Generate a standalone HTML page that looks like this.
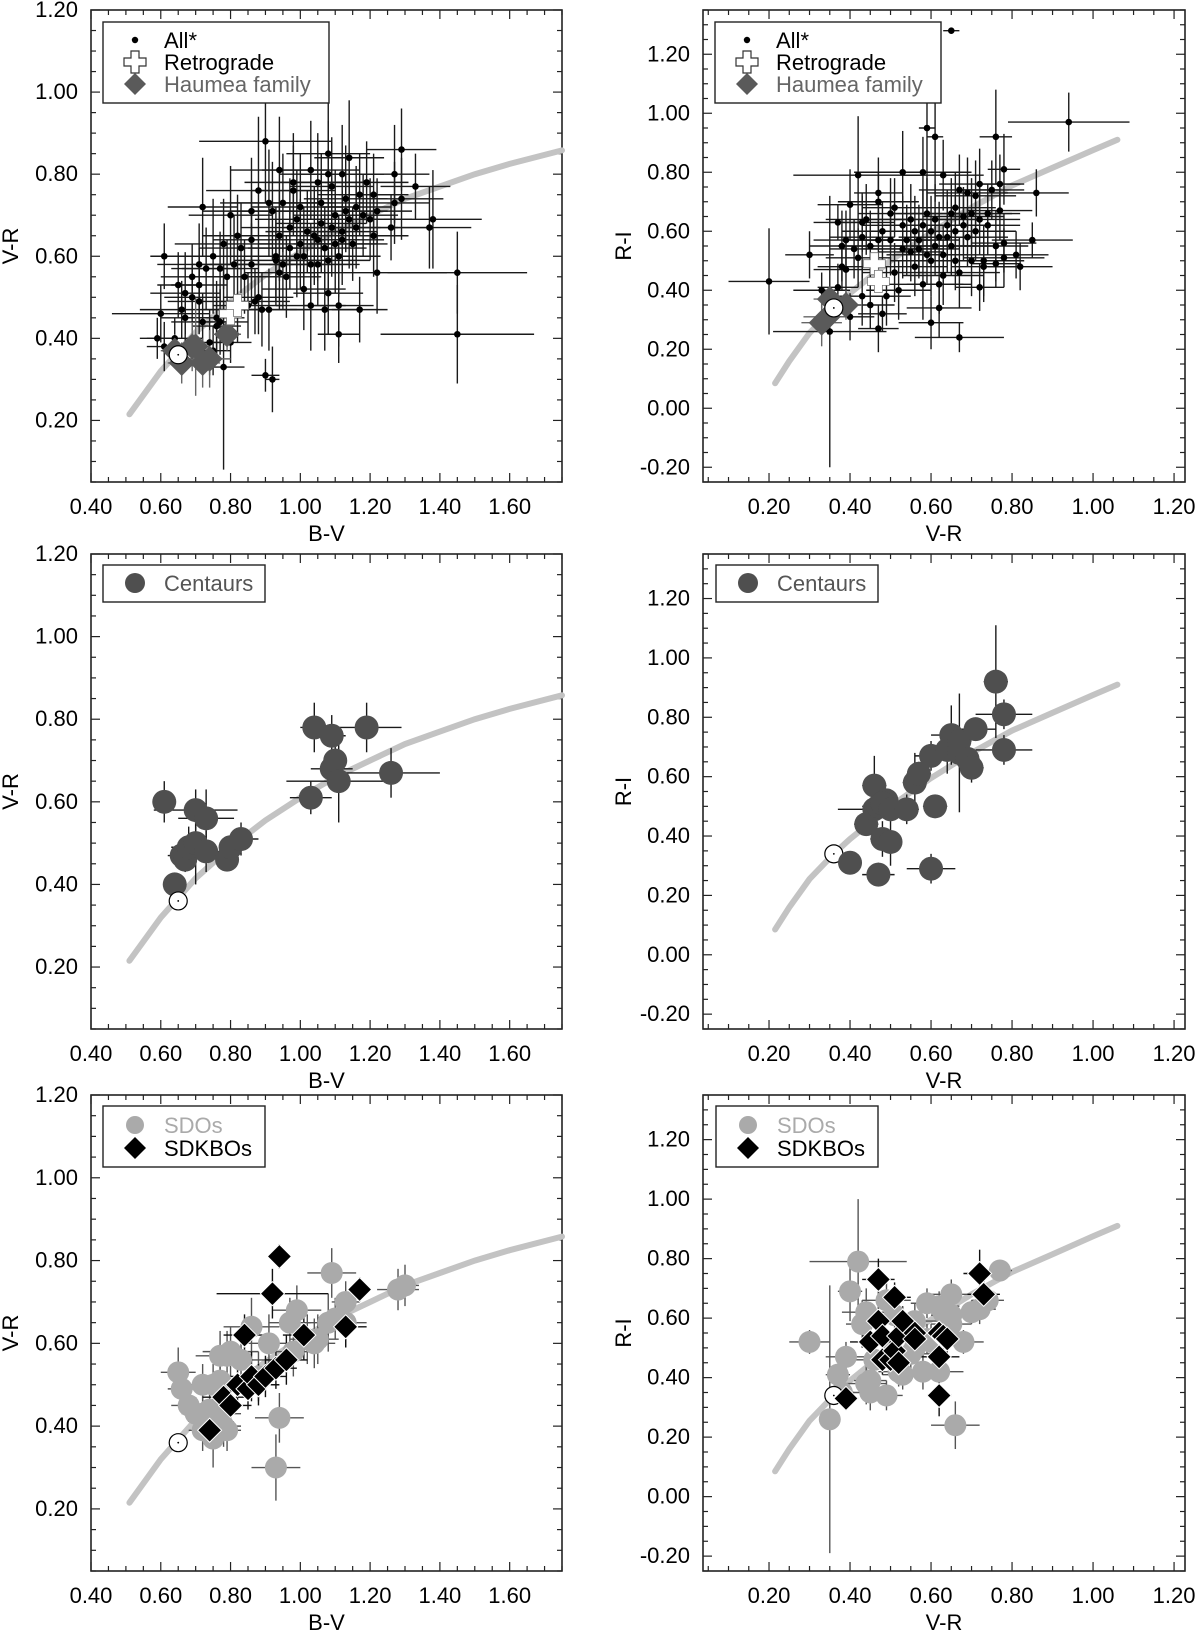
<!DOCTYPE html>
<html><head><meta charset="utf-8"><style>
html,body{margin:0;padding:0;background:#fff;}
svg{display:block;font-family:"Liberation Sans",Arial,sans-serif;}
</style></head><body>
<svg id="fig" width="1200" height="1632" viewBox="0 0 1200 1632" xmlns="http://www.w3.org/2000/svg"></svg>
<script>
// ---------- DATA ----------
const curveBV = [0.51,0.60,0.70,0.80,0.90,1.00,1.10,1.20,1.30,1.40,1.50,1.60,1.75];
const curveVR_BV = [0.215,0.32,0.415,0.49,0.555,0.61,0.66,0.70,0.74,0.77,0.80,0.825,0.858];
const curveVR = [0.215,0.25,0.30,0.36,0.40,0.50,0.60,0.70,0.80,0.90,1.00,1.06];
const curveRI = [0.085,0.16,0.255,0.34,0.39,0.50,0.595,0.68,0.755,0.815,0.875,0.91];
const sunBV=[0.65,0.36], sunVR=[0.36,0.34];

const allBV = [
[0.61,0.60,0.04,0.08],[0.60,0.46,0.14,0.07],[0.59,0.40,0.05,0.05],[0.61,0.38,0.05,0.06],[0.64,0.40,0.08,0.05],
[0.65,0.53,0.06,0.08],[0.66,0.47,0.12,0.07],[0.67,0.51,0.10,0.10],[0.67,0.45,0.07,0.06],[0.69,0.55,0.09,0.08],
[0.71,0.58,0.12,0.10],[0.71,0.53,0.08,0.09],[0.72,0.72,0.10,0.12],[0.72,0.44,0.09,0.07],[0.73,0.57,0.10,0.10],
[0.74,0.39,0.06,0.08],[0.75,0.60,0.10,0.14],[0.75,0.37,0.05,0.06],[0.76,0.45,0.08,0.09],[0.77,0.57,0.11,0.09],
[0.78,0.33,0.06,0.25],[0.78,0.63,0.14,0.11],[0.79,0.55,0.10,0.09],[0.80,0.70,0.12,0.12],[0.80,0.39,0.06,0.05],
[0.81,0.58,0.12,0.12],[0.82,0.65,0.10,0.10],[0.83,0.62,0.12,0.11],[0.84,0.55,0.10,0.09],[0.86,0.64,0.11,0.12],
[0.86,0.71,0.14,0.13],[0.86,0.58,0.12,0.10],[0.87,0.49,0.10,0.08],[0.88,0.76,0.15,0.18],[0.89,0.47,0.10,0.09],
[0.90,0.88,0.19,0.15],[0.90,0.31,0.04,0.04],[0.91,0.73,0.14,0.13],[0.91,0.47,0.12,0.10],[0.92,0.30,0.02,0.08],
[0.92,0.71,0.12,0.12],[0.93,0.60,0.13,0.12],[0.94,0.65,0.12,0.11],[0.94,0.81,0.14,0.13],[0.95,0.73,0.15,0.12],
[0.95,0.58,0.14,0.11],[0.96,0.55,0.10,0.10],[0.97,0.67,0.14,0.12],[0.98,0.78,0.14,0.12],[0.98,0.76,0.12,0.11],
[0.99,0.69,0.12,0.12],[1.00,0.72,0.14,0.13],[1.00,0.63,0.12,0.11],[1.01,0.52,0.12,0.10],[1.01,0.60,0.14,0.12],
[1.03,0.81,0.14,0.12],[1.03,0.48,0.10,0.11],[1.04,0.65,0.12,0.12],[1.05,0.78,0.14,0.12],[1.05,0.58,0.12,0.10],
[1.06,0.68,0.13,0.12],[1.07,0.47,0.10,0.10],[1.08,0.85,0.12,0.13],[1.08,0.80,0.14,0.13],[1.08,0.51,0.10,0.10],
[1.09,0.77,0.12,0.12],[1.09,0.67,0.14,0.12],[1.10,0.63,0.12,0.12],[1.11,0.41,0.06,0.07],[1.11,0.48,0.10,0.10],
[1.12,0.80,0.12,0.12],[1.12,0.64,0.12,0.11],[1.13,0.74,0.12,0.13],[1.14,0.84,0.10,0.14],[1.14,0.69,0.12,0.12],
[1.16,0.67,0.12,0.10],[1.17,0.47,0.08,0.08],[1.17,0.75,0.12,0.10],[1.19,0.78,0.12,0.10],[1.20,0.69,0.12,0.10],
[1.21,0.75,0.10,0.10],[1.21,0.65,0.10,0.10],[1.22,0.56,0.20,0.10],[1.22,0.71,0.10,0.08],[1.26,0.67,0.12,0.08],
[1.27,0.80,0.10,0.12],[1.27,0.73,0.10,0.10],[1.29,0.86,0.10,0.10],[1.29,0.74,0.12,0.10],[1.33,0.77,0.10,0.08],
[1.37,0.67,0.12,0.10],[1.38,0.69,0.14,0.12],[1.45,0.56,0.20,0.10],[1.45,0.41,0.22,0.12],
[0.97,0.62,0.12,0.10],[1.02,0.66,0.12,0.10],[1.07,0.62,0.12,0.10],[1.10,0.70,0.12,0.11],[1.12,0.66,0.10,0.10],
[1.15,0.63,0.10,0.09],[1.08,0.59,0.12,0.10],[1.05,0.64,0.12,0.10],[0.93,0.59,0.12,0.10],[0.94,0.56,0.10,0.09],
[0.99,0.60,0.12,0.10],[1.03,0.58,0.12,0.10],[0.88,0.50,0.10,0.09],[0.85,0.48,0.10,0.08],[0.77,0.44,0.08,0.08],
[0.76,0.43,0.07,0.07],[0.71,0.49,0.09,0.08],[0.69,0.50,0.08,0.08],[0.82,0.47,0.10,0.08],[1.11,0.60,0.12,0.10],
[1.13,0.71,0.12,0.10],[1.16,0.72,0.10,0.10],[1.18,0.70,0.10,0.10],[1.06,0.73,0.12,0.12]
];
const haumeaBV = [[0.64,0.37,0.04,0.04],[0.66,0.34,0.04,0.05],[0.69,0.38,0.05,0.06],[0.70,0.38,0.04,0.12],[0.72,0.34,0.05,0.06],[0.74,0.35,0.06,0.07],[0.79,0.41,0.04,0.04]];
const retroBV = [[0.80,0.46],[0.82,0.48]];

const allVR = [
[0.20,0.43,0.10,0.18],[0.30,0.52,0.06,0.08],[0.33,0.40,0.07,0.06],[0.35,0.26,0.14,0.46],[0.37,0.63,0.06,0.06],
[0.37,0.41,0.05,0.08],[0.38,0.55,0.08,0.12],[0.38,0.48,0.06,0.08],[0.39,0.57,0.08,0.10],[0.39,0.47,0.08,0.10],
[0.40,0.69,0.08,0.12],[0.40,0.31,0.06,0.08],[0.41,0.54,0.06,0.10],[0.42,0.79,0.16,0.20],[0.42,0.51,0.08,0.10],
[0.43,0.58,0.08,0.14],[0.43,0.63,0.08,0.10],[0.43,0.38,0.08,0.10],[0.44,0.64,0.10,0.12],[0.45,0.35,0.06,0.08],
[0.45,0.55,0.08,0.12],[0.47,0.73,0.06,0.12],[0.47,0.27,0.05,0.08],[0.47,0.70,0.10,0.10],[0.47,0.57,0.08,0.10],
[0.48,0.32,0.06,0.06],[0.49,0.38,0.06,0.10],[0.50,0.66,0.08,0.12],[0.51,0.68,0.08,0.10],[0.51,0.46,0.08,0.10],
[0.52,0.40,0.08,0.10],[0.53,0.80,0.12,0.14],[0.53,0.62,0.10,0.10],[0.54,0.57,0.10,0.12],[0.55,0.64,0.10,0.12],
[0.55,0.53,0.08,0.10],[0.56,0.48,0.08,0.10],[0.57,0.57,0.10,0.12],[0.58,0.80,0.12,0.12],[0.58,0.42,0.10,0.12],
[0.59,0.95,0.02,0.30],[0.59,0.66,0.10,0.12],[0.60,0.29,0.08,0.09],[0.60,0.50,0.10,0.12],[0.61,0.92,0.02,0.22],
[0.61,0.64,0.10,0.12],[0.62,0.34,0.08,0.10],[0.62,0.42,0.08,0.10],[0.63,0.79,0.10,0.12],[0.63,0.45,0.10,0.10],
[0.64,0.62,0.10,0.12],[0.65,1.28,0.02,0.01],[0.65,0.55,0.10,0.10],[0.66,0.68,0.10,0.12],[0.66,0.50,0.10,0.10],
[0.67,0.74,0.10,0.12],[0.67,0.24,0.11,0.05],[0.67,0.46,0.10,0.12],[0.68,0.65,0.10,0.10],[0.69,0.73,0.10,0.12],
[0.70,0.50,0.10,0.12],[0.71,0.72,0.10,0.12],[0.72,0.76,0.10,0.12],[0.72,0.41,0.06,0.08],[0.73,0.50,0.10,0.12],
[0.73,0.48,0.08,0.12],[0.74,0.66,0.08,0.10],[0.75,0.74,0.08,0.10],[0.76,0.92,0.04,0.16],[0.76,0.55,0.08,0.12],
[0.76,0.49,0.06,0.08],[0.77,0.76,0.06,0.10],[0.77,0.67,0.08,0.10],[0.78,0.81,0.04,0.12],[0.78,0.56,0.08,0.10],
[0.78,0.51,0.10,0.10],[0.81,0.52,0.08,0.08],[0.82,0.48,0.08,0.08],[0.85,0.57,0.10,0.06],[0.86,0.73,0.08,0.08],
[0.94,0.97,0.15,0.10],
[0.56,0.60,0.10,0.12],[0.58,0.62,0.10,0.12],[0.60,0.60,0.10,0.12],[0.62,0.58,0.10,0.12],[0.64,0.58,0.10,0.12],
[0.66,0.60,0.10,0.12],[0.68,0.62,0.10,0.12],[0.70,0.66,0.10,0.12],[0.72,0.64,0.10,0.12],[0.57,0.54,0.10,0.10],
[0.59,0.52,0.10,0.10],[0.61,0.55,0.10,0.10],[0.63,0.52,0.10,0.10],[0.53,0.54,0.10,0.10],[0.50,0.57,0.10,0.12],
[0.48,0.60,0.10,0.10],[0.65,0.66,0.10,0.12],[0.69,0.58,0.10,0.10],[0.71,0.60,0.10,0.10],[0.74,0.62,0.08,0.10]
];
const haumeaVR = [[0.33,0.29,0.05,0.08],[0.345,0.31,0.06,0.06],[0.35,0.37,0.04,0.04],[0.39,0.35,0.04,0.05]];
const retroVR = [[0.46,0.49],[0.47,0.43]];

const centBV = [[0.61,0.60,0.03,0.05],[0.64,0.40,0.03,0.02],[0.66,0.47,0.04,0.02],[0.67,0.46,0.03,0.03],[0.70,0.58,0.12,0.05],
[0.68,0.49,0.05,0.05],[0.70,0.50,0.05,0.10],[0.73,0.56,0.08,0.07],[0.73,0.48,0.05,0.05],[0.79,0.46,0.02,0.02],
[0.80,0.49,0.03,0.02],[0.83,0.51,0.05,0.04],[1.03,0.61,0.06,0.04],[1.04,0.78,0.04,0.06],[1.09,0.76,0.04,0.05],
[1.09,0.68,0.06,0.04],[1.10,0.70,0.03,0.06],[1.11,0.65,0.15,0.10],[1.19,0.78,0.10,0.06],[1.26,0.67,0.14,0.06]];
const centVR = [[0.40,0.31,0.00,0.00],[0.44,0.44,0.03,0.02],[0.46,0.57,0.03,0.10],[0.46,0.49,0.09,0.03],[0.47,0.50,0.04,0.04],
[0.47,0.27,0.04,0.04],[0.48,0.39,0.03,0.06],[0.49,0.52,0.03,0.04],[0.48,0.51,0.03,0.05],[0.50,0.49,0.03,0.02],
[0.50,0.38,0.02,0.08],[0.54,0.49,0.03,0.05],[0.56,0.58,0.03,0.10],[0.57,0.61,0.03,0.04],[0.60,0.29,0.06,0.05],
[0.60,0.67,0.04,0.05],[0.61,0.50,0.03,0.03],[0.64,0.69,0.05,0.08],[0.65,0.74,0.05,0.10],[0.67,0.68,0.04,0.20],
[0.67,0.72,0.03,0.03],[0.69,0.66,0.03,0.04],[0.70,0.63,0.03,0.05],[0.71,0.76,0.05,0.03],[0.76,0.92,0.03,0.19],
[0.78,0.81,0.07,0.05],[0.78,0.69,0.07,0.05]];

const sdoBV = [[0.65,0.53,0.05,0.06],[0.66,0.49,0.04,0.05],[0.68,0.45,0.05,0.04],[0.70,0.43,0.04,0.04],[0.72,0.43,0.05,0.05],
[0.72,0.39,0.04,0.05],[0.74,0.44,0.05,0.05],[0.75,0.37,0.04,0.07],[0.76,0.41,0.05,0.06],[0.77,0.43,0.06,0.05],
[0.78,0.40,0.05,0.05],[0.79,0.39,0.04,0.05],[0.72,0.50,0.05,0.05],[0.75,0.50,0.06,0.05],[0.77,0.57,0.07,0.06],
[0.77,0.51,0.05,0.05],[0.79,0.57,0.05,0.06],[0.80,0.58,0.08,0.06],[0.83,0.56,0.08,0.06],[0.86,0.64,0.08,0.07],
[0.88,0.52,0.06,0.06],[0.91,0.60,0.06,0.07],[0.94,0.42,0.07,0.06],[0.93,0.30,0.07,0.08],[0.97,0.65,0.06,0.06],
[0.98,0.58,0.06,0.06],[0.99,0.68,0.07,0.06],[1.02,0.61,0.05,0.06],[1.04,0.60,0.06,0.06],[1.05,0.61,0.06,0.06],
[1.08,0.65,0.06,0.07],[1.09,0.77,0.07,0.06],[1.10,0.66,0.05,0.05],[1.13,0.70,0.04,0.05],[1.13,0.65,0.06,0.06],
[1.28,0.73,0.06,0.05],[1.30,0.74,0.04,0.05]];
const sdkBV = [[0.74,0.39,0.03,0.03],[0.78,0.47,0.06,0.05],[0.80,0.45,0.06,0.05],[0.82,0.50,0.07,0.05],[0.84,0.62,0.06,0.05],
[0.85,0.49,0.05,0.05],[0.86,0.52,0.06,0.06],[0.88,0.50,0.06,0.05],[0.90,0.52,0.06,0.05],[0.92,0.72,0.16,0.06],
[0.93,0.54,0.06,0.05],[0.94,0.81,0.02,0.03],[0.96,0.56,0.06,0.06],[1.01,0.62,0.06,0.06],[1.13,0.64,0.06,0.05],[1.17,0.73,0.03,0.03]];
const sdoVR = [[0.30,0.52,0.05,0.04],[0.35,0.26,0.01,0.45],[0.37,0.41,0.03,0.03],[0.38,0.35,0.03,0.03],[0.39,0.47,0.05,0.05],
[0.40,0.69,0.03,0.10],[0.42,0.79,0.12,0.21],[0.43,0.58,0.04,0.08],[0.44,0.62,0.06,0.08],[0.44,0.38,0.05,0.07],
[0.45,0.35,0.05,0.06],[0.45,0.39,0.04,0.05],[0.46,0.46,0.05,0.05],[0.49,0.34,0.04,0.05],[0.49,0.66,0.06,0.06],
[0.50,0.48,0.06,0.05],[0.51,0.61,0.06,0.05],[0.52,0.42,0.05,0.05],[0.53,0.41,0.05,0.05],[0.55,0.48,0.05,0.06],
[0.56,0.59,0.06,0.06],[0.56,0.50,0.05,0.05],[0.58,0.42,0.06,0.06],[0.59,0.65,0.04,0.05],[0.59,0.53,0.05,0.05],
[0.60,0.52,0.05,0.06],[0.62,0.42,0.06,0.05],[0.62,0.64,0.05,0.05],[0.63,0.62,0.05,0.05],[0.65,0.68,0.05,0.05],
[0.65,0.61,0.05,0.06],[0.65,0.58,0.05,0.05],[0.66,0.24,0.06,0.08],[0.68,0.52,0.05,0.04],[0.70,0.62,0.04,0.04],
[0.72,0.63,0.04,0.05],[0.74,0.66,0.04,0.04],[0.77,0.76,0.03,0.03]];
const sdkVR = [[0.39,0.33,0.03,0.04],[0.45,0.52,0.05,0.05],[0.47,0.73,0.04,0.07],[0.47,0.59,0.06,0.06],[0.48,0.46,0.04,0.05],
[0.48,0.54,0.05,0.05],[0.50,0.46,0.05,0.05],[0.51,0.67,0.04,0.05],[0.51,0.49,0.05,0.05],[0.52,0.54,0.05,0.05],
[0.52,0.45,0.05,0.06],[0.53,0.59,0.05,0.05],[0.56,0.55,0.05,0.05],[0.56,0.53,0.05,0.06],[0.62,0.55,0.04,0.05],
[0.62,0.47,0.05,0.05],[0.62,0.34,0.03,0.07],[0.63,0.54,0.05,0.05],[0.64,0.53,0.04,0.05],[0.72,0.75,0.04,0.08],[0.73,0.68,0.04,0.05]];

const bvTicks = ["0.40","0.60","0.80","1.00","1.20","1.40","1.60"];
const vrTicksL = ["0.20","0.40","0.60","0.80","1.00","1.20"];
const vrTicksR = ["0.20","0.40","0.60","0.80","1.00","1.20"];
const riTicks = ["-0.20","0.00","0.20","0.40","0.60","0.80","1.00","1.20"];

// ---------- RENDER ----------
const NS="http://www.w3.org/2000/svg";
const svg=document.getElementById('fig');
function el(tag,attrs,parent){const e=document.createElementNS(NS,tag);for(const k in attrs)e.setAttribute(k,attrs[k]);(parent||svg).appendChild(e);return e;}

function makePanel(id,x0,x1,y0,y1,xr,yr,xt,yt,xlab,ylab){
  const g=el('g',{});
  
  
  const sx=v=>x0+(v-xr[0])/(xr[1]-xr[0])*(x1-x0);
  const sy=v=>y1-(v-yr[0])/(yr[1]-yr[0])*(y1-y0);
  const ax=el('g',{stroke:'#222','stroke-width':1.2},g);
  
  
  for(let k=Math.ceil(xr[0]*20-1e-6); k<=Math.floor(xr[1]*20+1e-6); k++){
    const major=(k%4===0); const Lg=major?9:5; const X=sx(k/20);
    el('line',{x1:X,x2:X,y1:y1,y2:y1-Lg},ax); el('line',{x1:X,x2:X,y1:y0,y2:y0+Lg},ax);
  }
  for(let k=Math.ceil(yr[0]*20-1e-6); k<=Math.floor(yr[1]*20+1e-6); k++){
    const major=(k%4===0); const Lg=major?9:5; const Y=sy(k/20);
    el('line',{x1:x0,x2:x0+Lg,y1:Y,y2:Y},ax); el('line',{x1:x1,x2:x1-Lg,y1:Y,y2:Y},ax);
  }
  const fr=el('rect',{x:x0,y:y0,width:x1-x0,height:y1-y0,fill:'none',stroke:'#222','stroke-width':1.6},g);
  
  
  xt.forEach(t=>{const tx=el('text',{x:sx(parseFloat(t)),y:y1+32,'font-size':22,'text-anchor':'middle',fill:'#000'},g);tx.textContent=t;
    
    });
  yt.forEach(t=>{const tx=el('text',{x:x0-13,y:sy(parseFloat(t))+7,'font-size':22,'text-anchor':'end',fill:'#000'},g);tx.textContent=t;
    
    });
  const xl=el('text',{x:(x0+x1)/2,y:y1+59,'font-size':22,'text-anchor':'middle'},g);xl.textContent=xlab;
  
  
  const yx=x0-(x0>600?72:73);
  const yl=el('text',{x:yx,y:(y0+y1)/2,'font-size':22,'text-anchor':'middle',transform:`rotate(-90 ${yx} ${(y0+y1)/2})`},g);yl.textContent=ylab;
  
  
  return {g,sx,sy,x0,y0};
}
function curve(P,xs,ys){
  const d=xs.map((v,i)=>(i?'L':'M')+P.sx(v).toFixed(1)+' '+P.sy(ys[i]).toFixed(1)).join(' ');
  const p=el('path',{d,fill:'none',stroke:'#c3c3c3','stroke-width':6,'stroke-linecap':'round'},P.g);
  
  
}
function errs(P,data,color){
  const g=el('g',{stroke:color,'stroke-width':1.4},P.g);
  
  
  data.forEach(d=>{const X=P.sx(d[0]),Y=P.sy(d[1]);
    if(d[2]>0)el('line',{x1:P.sx(d[0]-d[2]),x2:P.sx(d[0]+d[2]),y1:Y,y2:Y},g);
    if(d[3]>0)el('line',{x1:X,x2:X,y1:P.sy(d[1]-d[3]),y2:P.sy(d[1]+d[3])},g);});
}
function dots(P,data,r,fill,name){
  const g=el('g',{fill},P.g);
  
  
  data.forEach(d=>{const c=el('circle',{cx:P.sx(d[0]),cy:P.sy(d[1]),r},g);
    
    });
}
function diamonds(P,data,h,fill,name,stroke){
  const g=el('g',{fill,stroke:stroke||'none','stroke-width':1},P.g);
  
  
  data.forEach(d=>{const X=P.sx(d[0]),Y=P.sy(d[1]);
    const p=el('polygon',{points:`${X},${Y-h} ${X+h},${Y} ${X},${Y+h} ${X-h},${Y}`},g);
    
    });
}
function crossPath(X,Y,a,b){return `M${X-b},${Y-a}H${X+b}V${Y-b}H${X+a}V${Y+b}H${X+b}V${Y+a}H${X-b}V${Y+b}H${X-a}V${Y-b}H${X-b}Z`;}
function crosses(P,data){
  const g=el('g',{fill:'#fff',stroke:'#777','stroke-width':0.8},P.g);
  
  
  data.forEach(d=>{const p=el('path',{d:crossPath(P.sx(d[0]),P.sy(d[1]),11,4)},g);
    
    });
}
function sun(P,s){
  const X=P.sx(s[0]),Y=P.sy(s[1]);
  const c=el('circle',{cx:X,cy:Y,r:9,fill:'#fff',stroke:'#000','stroke-width':1.2},P.g);
  
  
  el('circle',{cx:X,cy:Y,r:0.9,fill:'#000'},P.g);
}
function legend(P,x,y,w,h,items){
  const g=el('g',{},P.g);
  
  
  el('rect',{x,y,width:w,height:h,fill:'#fff',stroke:'#222','stroke-width':1.4},g);
  items.forEach(it=>{
    const cx=x+32, cy=it.y;
    if(it.sym==='dot')el('circle',{cx,cy,r:3.2,fill:'#000'},g);
    if(it.sym==='cross')el('path',{d:crossPath(cx,cy,11,4),fill:'#fff',stroke:'#333','stroke-width':1.2},g);
    if(it.sym==='dia')el('polygon',{points:`${cx},${cy-11} ${cx+11},${cy} ${cx},${cy+11} ${cx-11},${cy}`,fill:it.fill},g);
    if(it.sym==='circ')el('circle',{cx,cy,r:it.r||10,fill:it.fill},g);
    const t=el('text',{x:x+61,y:cy+8,'font-size':22,fill:it.color},g);t.textContent=it.label;
    
    
  });
}

const L=[91,562], R=[703,1185];
const rows=[[10,482],[554,1029],[1095,1571]];
const bvR=[0.40,1.75], vrYR=[0.05,1.20], vrXR=[0.037,1.227], riR=[-0.25,1.35];

let P=makePanel('panel-all-bv',L[0],L[1],rows[0][0],rows[0][1],bvR,vrYR,bvTicks,vrTicksL,'B-V','V-R');
curve(P,curveBV,curveVR_BV);
errs(P,allBV,'#1a1a1a'); errs(P,haumeaBV,'#666');
dots(P,allBV,3.3,'#000','all-objects');
diamonds(P,haumeaBV,13,'#5a5a5a','haumea-family');
sun(P,sunBV); crosses(P,retroBV);
legend(P,103,22,226,81,[{sym:'dot',y:40,label:'All*',color:'#000'},{sym:'cross',y:62,label:'Retrograde',color:'#000'},{sym:'dia',fill:'#5a5a5a',y:84,label:'Haumea family',color:'#666'}]);

P=makePanel('panel-all-vr',R[0],R[1],rows[0][0],rows[0][1],vrXR,riR,vrTicksR,riTicks,'V-R','R-I');
curve(P,curveVR,curveRI);
errs(P,allVR,'#1a1a1a'); errs(P,haumeaVR,'#666');
dots(P,allVR,3.3,'#000','all-objects');
diamonds(P,haumeaVR,13,'#5a5a5a','haumea-family');
sun(P,sunVR); crosses(P,retroVR);
legend(P,715,22,226,81,[{sym:'dot',y:40,label:'All*',color:'#000'},{sym:'cross',y:62,label:'Retrograde',color:'#000'},{sym:'dia',fill:'#5a5a5a',y:84,label:'Haumea family',color:'#666'}]);

P=makePanel('panel-centaurs-bv',L[0],L[1],rows[1][0],rows[1][1],bvR,vrYR,bvTicks,vrTicksL,'B-V','V-R');
curve(P,curveBV,curveVR_BV);
errs(P,centBV,'#1a1a1a'); dots(P,centBV,12,'#4f4f4f','centaurs'); sun(P,sunBV);
legend(P,103,565,162,37,[{sym:'circ',fill:'#4f4f4f',y:583,label:'Centaurs',color:'#555'}]);

P=makePanel('panel-centaurs-vr',R[0],R[1],rows[1][0],rows[1][1],vrXR,riR,vrTicksR,riTicks,'V-R','R-I');
curve(P,curveVR,curveRI);
errs(P,centVR,'#1a1a1a'); sun(P,sunVR); dots(P,centVR,12,'#4f4f4f','centaurs');
legend(P,716,565,162,37,[{sym:'circ',fill:'#4f4f4f',y:583,label:'Centaurs',color:'#555'}]);

P=makePanel('panel-sdo-bv',L[0],L[1],rows[2][0],rows[2][1],bvR,vrYR,bvTicks,vrTicksL,'B-V','V-R');
curve(P,curveBV,curveVR_BV);
errs(P,sdoBV,'#555'); errs(P,sdkBV,'#111');
dots(P,sdoBV,11,'#aaaaaa','sdos'); diamonds(P,sdkBV,12,'#000','sdkbos','#fff'); sun(P,sunBV);
legend(P,103,1106,162,61,[{sym:'circ',fill:'#aaa',y:1125,label:'SDOs',color:'#aaa',r:9},{sym:'dia',fill:'#000',y:1148,label:'SDKBOs',color:'#000'}]);

P=makePanel('panel-sdo-vr',R[0],R[1],rows[2][0],rows[2][1],vrXR,riR,vrTicksR,riTicks,'V-R','R-I');
curve(P,curveVR,curveRI);
errs(P,sdoVR,'#555'); errs(P,sdkVR,'#111');
dots(P,sdoVR,11,'#aaaaaa','sdos'); sun(P,sunVR); diamonds(P,sdkVR,12,'#000','sdkbos','#fff');
legend(P,716,1106,162,61,[{sym:'circ',fill:'#aaa',y:1125,label:'SDOs',color:'#aaa',r:9},{sym:'dia',fill:'#000',y:1148,label:'SDKBOs',color:'#000'}]);
</script>
</body></html>
